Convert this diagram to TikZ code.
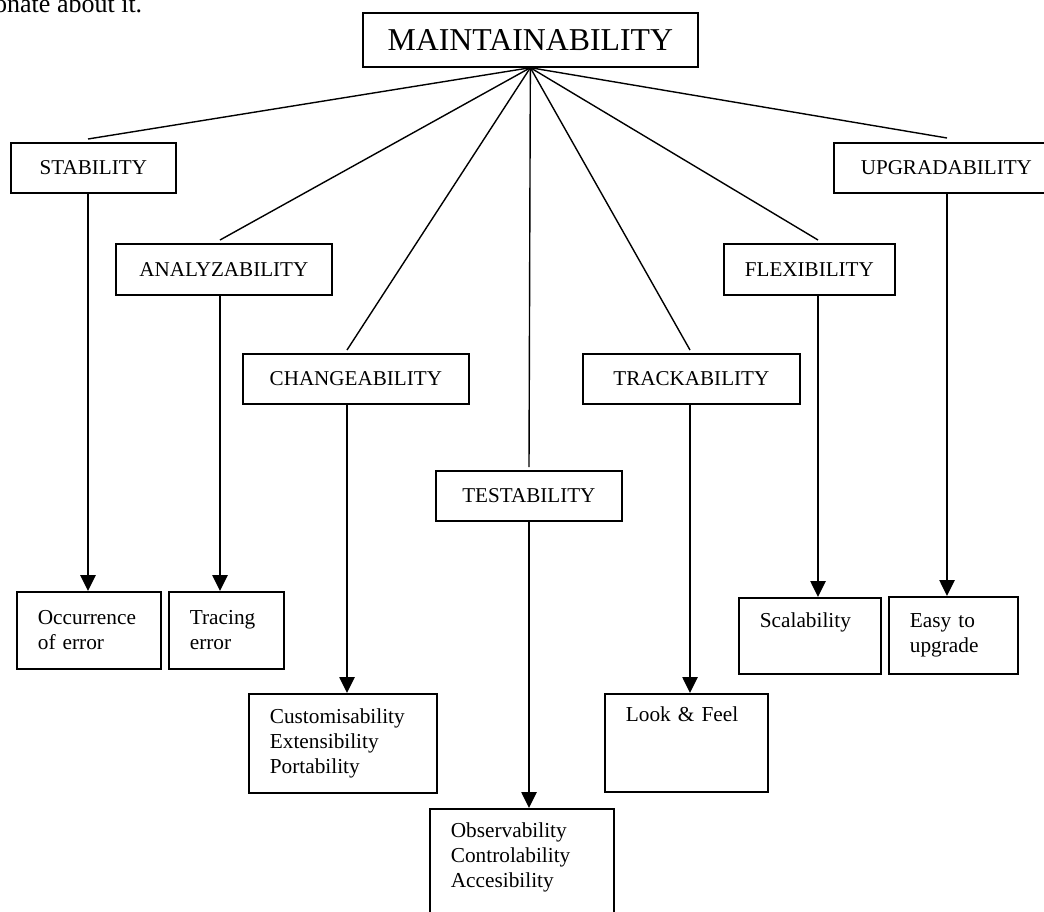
\documentclass[tikz,border=0pt]{standalone}
\usepackage{fontspec}
\setmainfont{Liberation Serif}
\usetikzlibrary{positioning,arrows.meta}

\tikzset{
    head/.style={draw, line width=1.7pt, inner sep=0pt, anchor=north west,
        font=\fontsize{21.1}{25}\selectfont},
    leaf/.style={draw, line width=1.7pt, align=left, inner xsep=21pt, inner ysep=0pt,
        anchor=north west, font=\fontsize{21.3}{25}\selectfont},
    fan/.style={line width=1.4pt},
    stem/.style={line width=2.6pt, -{Triangle[length=16pt,width=15pt]}}
}

\begin{document}
\begin{tikzpicture}[x=1pt,y=-1pt]
    \useasboundingbox (0,0) rectangle (1044,911);

    % Page text above the chart
    \node[inner sep=0pt, anchor=base west, font=\fontsize{26}{30}\selectfont] (intro) at (-6,12) {onate about it.};

    % Top box
    \node[draw, line width=1.7pt, inner sep=0pt, anchor=north west, minimum width=335pt, minimum height=54pt,
        font=\fontsize{31.8}{36}\selectfont] (main) at (362,12) {MAINTAINABILITY};

    % Sub-characteristics
    \node[head, minimum width=165pt, minimum height=50pt] (stab) at (10,142) {STABILITY};
    \node[head, minimum width=216pt, minimum height=51pt] (ana) at (115,243) {ANALYZABILITY};
    \node[head, minimum width=226pt, minimum height=50pt] (chg) at (242,353) {CHANGEABILITY};
    \node[head, minimum width=186pt, minimum height=50pt] (test) at (435,470) {TESTABILITY};
    \node[head, minimum width=217pt, minimum height=50pt] (trk) at (582,353) {TRACKABILITY};
    \node[head, minimum width=171pt, minimum height=51pt] (flex) at (723,243) {FLEXIBILITY};
    \node[head, minimum width=225pt, minimum height=50pt] (upg) at (833,142) {UPGRADABILITY};

    % Where the fan lines stop
    \coordinate (stabtop) at (88,139);
    \coordinate (anatop) at (220,240);
    \coordinate (chgtop) at (347,350);
    \coordinate (testtop) at (529,467);
    \coordinate (trktop) at (690,350);
    \coordinate (flextop) at (818,240);
    \coordinate (upgtop) at (947,138);

    % Leaf boxes
    \node[leaf, text width=102pt, minimum height=77pt] (occ) at (16,591) {Occurrence\\of error};
    \node[leaf, text width=73pt, minimum height=77pt] (trc) at (168,591) {Tracing\\error};
    \node[leaf, text width=146pt, minimum height=99pt] (cus) at (248,693) {Customisability\\Extensibility\\Portability};
    \node[leaf, text width=142pt, minimum height=124pt] (obs) at (429,808) {Observability\\Controlability\\Accesibility\\\strut};
    \node[leaf, text width=121pt, minimum height=98pt] (lnf) at (604,693) {Look \& Feel\\\strut\\\strut};
    \node[leaf, text width=100pt, minimum height=76pt] (scl) at (738,597) {Scalability\\\strut};
    \node[leaf, text width=87pt, minimum height=77pt] (esy) at (888,596) {Easy to\\upgrade};

    % Fan from the top box
    \foreach \t in {stabtop, anatop, chgtop, testtop, trktop, flextop, upgtop}
        \draw[fan] (main.south) -- (\t);

    % Stems down to the leaves
    \foreach \h/\l/\t in {stab/occ/stabtop, ana/trc/anatop, chg/cus/chgtop, test/obs/testtop,
                          trk/lnf/trktop, flex/scl/flextop, upg/esy/upgtop}
        \draw[stem] (\h.south -| \t) -- (\l.north -| \t);
\end{tikzpicture}
\end{document}
